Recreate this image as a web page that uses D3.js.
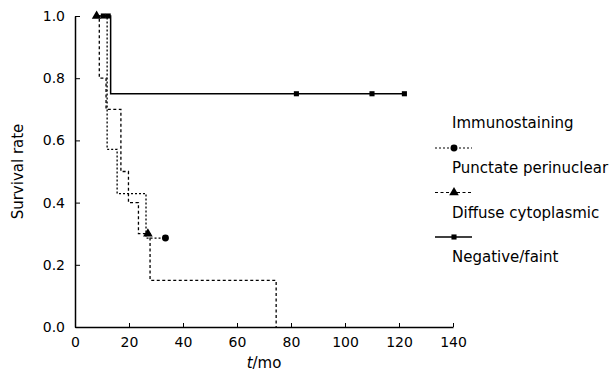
<!DOCTYPE html>
<html>
<head>
<meta charset="utf-8">
<script src="https://cdn.jsdelivr.net/npm/d3@7"></script>
<style>
  body { margin: 0; background: #fff; }
  text { font-family: "DejaVu Sans", Verdana, sans-serif; fill: #000; }
</style>
</head>
<body>
<div id="chart"></div>
<script>
// tick values
const timeTicks = [0, 20, 40, 60, 80, 100, 120, 140];
const survTicks = [0, 0.2, 0.4, 0.6, 0.8, 1.0];

// Kaplan-Meier steps (time in months, survival after that time)
const punctateTimes = [8, 11.9, 15.6, 26.3, 33.5];
const punctateSurv = [1.0, 0.571, 0.429, 0.286, 0.286];
const punctateCensored = [33.5];

const diffuseTimes = [8, 9, 11.5, 17, 19.8, 23.5, 27.8, 74.5];
const diffuseSurv = [1.0, 0.8, 0.7, 0.5, 0.4, 0.3, 0.15, 0];
const diffuseCensored = [8, 27];

const negativeTimes = [8.5, 13.2, 122];
const negativeSurv = [1.0, 0.75, 0.75];
const negativeCensored = [10.5, 12.3, 82, 110, 122];

const legendTitle = 'Immunostaining';
const seriesNames = ['Punctate perinuclear', 'Diffuse cytoplasmic', 'Negative/faint'];

const width = 615, height = 377;
const margin = { left: 75, right: 162, top: 16, bottom: 50 };

const svg = d3.select('#chart').append('svg')
  .attr('width', width)
  .attr('height', height);

svg.append('rect').attr('width', width).attr('height', height).attr('fill', '#fff');

const x = d3.scaleLinear().domain([0, 140]).range([margin.left, width - margin.right + 0]);
const y = d3.scaleLinear().domain([0, 1]).range([height - margin.bottom, margin.top]);

// axes, ticks pointing inward
const xAxis = svg.append('g')
  .attr('transform', `translate(0,${y(0)})`)
  .call(d3.axisBottom(x).tickValues(timeTicks).tickSizeInner(-4).tickSizeOuter(0).tickPadding(10));
const yAxis = svg.append('g')
  .attr('transform', `translate(${x(0)},0)`)
  .call(d3.axisLeft(y).tickValues(survTicks).tickFormat(d3.format('.1f')).tickSizeInner(-5).tickSizeOuter(0).tickPadding(10));

[xAxis, yAxis].forEach(a => {
  a.select('.domain').attr('stroke', '#000').attr('stroke-width', 1.5);
  a.selectAll('.tick line').attr('stroke', '#000').attr('stroke-width', 1);
  a.selectAll('.tick text').style('font-family', '"DejaVu Sans", Verdana, sans-serif').attr('font-size', 14);
});

// axis titles
svg.append('text')
  .attr('transform', `translate(23,${(y(0) + y(1)) / 2}) rotate(-90)`)
  .attr('text-anchor', 'middle')
  .attr('font-size', 15)
  .text('Survival rate');

const xt = svg.append('text')
  .attr('x', (x(0) + x(140)) / 2)
  .attr('y', 368)
  .attr('text-anchor', 'middle')
  .attr('font-size', 15);
xt.append('tspan').attr('font-style', 'italic').text('t');
xt.append('tspan').text('/mo');

const line = d3.line()
  .x(d => x(d[0]))
  .y(d => y(d[1]))
  .curve(d3.curveStepAfter);

// survival at a time, read from the step data
function survAt(times, surv, t) {
  let s = surv[0];
  times.forEach((tt, i) => { if (tt <= t) s = surv[i]; });
  return s;
}

const series = [
  { times: punctateTimes, surv: punctateSurv, censored: punctateCensored, dash: '2,2', width: 1.3, marker: 'circle' },
  { times: diffuseTimes, surv: diffuseSurv, censored: diffuseCensored, dash: '3,2.5', width: 1.3, marker: 'triangle' },
  { times: negativeTimes, surv: negativeSurv, censored: negativeCensored, dash: null, width: 1.5, marker: 'square' }
];

const symbols = {
  circle: d3.symbol().type(d3.symbolCircle).size(38),
  triangle: d3.symbol().type(d3.symbolTriangle).size(40),
  square: d3.symbol().type(d3.symbolSquare).size(26)
};

series.forEach(s => {
  const pts = s.times.map((t, i) => [t, s.surv[i]]);
  svg.append('path')
    .datum(pts)
    .attr('fill', 'none')
    .attr('stroke', '#000')
    .attr('stroke-width', s.width)
    .attr('stroke-dasharray', s.dash)
    .attr('d', line);

  svg.selectAll(null)
    .data(s.censored)
    .join('path')
    .attr('transform', t => `translate(${x(t)},${y(survAt(s.times, s.surv, t))})`)
    .attr('d', symbols[s.marker]())
    .attr('fill', '#000');
});

// legend
const lg = svg.append('g');
lg.append('text').attr('x', 452).attr('y', 128).attr('font-size', 15).text(legendTitle);
series.forEach((s, i) => {
  const ly = 148 + i * 44.5;
  lg.append('line')
    .attr('x1', 435).attr('x2', 472)
    .attr('y1', ly).attr('y2', ly)
    .attr('stroke', '#000')
    .attr('stroke-width', s.width - 0.2)
    .attr('stroke-dasharray', s.dash);
  lg.append('path')
    .attr('transform', `translate(454,${ly})`)
    .attr('d', symbols[s.marker]())
    .attr('fill', '#000');
  lg.append('text')
    .attr('x', 452).attr('y', ly + 25)
    .attr('font-size', 15)
    .text(seriesNames[i]);
});
</script>
</body>
</html>
